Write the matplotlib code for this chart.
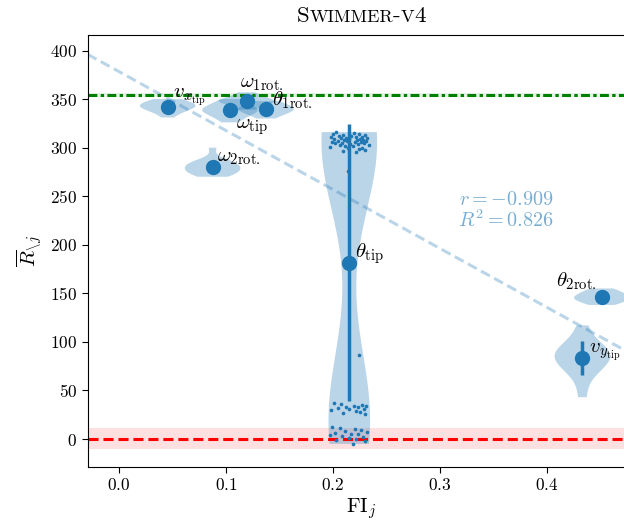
import numpy as np
import matplotlib
matplotlib.use('Agg')
import matplotlib.pyplot as plt
from matplotlib.transforms import ScaledTranslation

plt.rcParams.update({
    'font.family': 'serif',
    'font.serif': ['cmr10'],
    'mathtext.fontset': 'cm',
    'axes.formatter.use_mathtext': True,
    'axes.unicode_minus': False,
    'font.size': 12,
})

# features, their mean fraction of importance and the per-run scores after removal
features = [r'v_{x_\mathrm{tip}}', r'\omega_\mathrm{tip}', r'\omega_{1\mathrm{rot.}}',
            r'\theta_{1\mathrm{rot.}}', r'\omega_{2\mathrm{rot.}}', r'\theta_\mathrm{tip}',
            r'\theta_{2\mathrm{rot.}}', r'v_{y_\mathrm{tip}}']
fi_mean = [0.0455, 0.1037, 0.1193, 0.1374, 0.0875, 0.2152, 0.4511, 0.4330]

scores_vx_tip = [331, 335, 337, 339, 340, 341, 342, 343, 344, 345, 346, 347, 349, 350]
scores_w_tip = [326, 330, 333, 335, 337, 338, 339, 340, 342, 344, 346, 350]
scores_w1_rot = [339, 342, 344, 346, 347, 348, 348, 349, 350, 352, 354, 357]
scores_th1_rot = [330, 333, 335, 337, 338, 339, 340, 341, 343, 344, 346, 348]
scores_w2_rot = [270, 272, 273, 275, 276, 277, 279, 280, 282, 283, 284, 286, 287, 300]
scores_th_tip = [316, 315, 314, 314, 313, 313, 312, 312, 311, 311, 311, 310, 310, 310,
                 309, 309, 309, 308, 308, 308, 307, 307, 307, 306, 306, 306, 305, 305,
                 305, 304, 304, 303, 303, 302, 302, 301, 300, 300, 299, 298, 297, 296,
                 276, 86,
                 37, 36, 35, 34, 34, 33, 33, 32, 31, 31, 30, 29, 28, 27, 26,
                 12, 11, 10, 9, 8, 7, 6, 5, 5, 4, 3, 2, 1, 0, -1, -2, -5]
# per-run FI offsets of theta_tip around its mean (x 1e-3)
fi_offsets_th_tip = [-12, 4, -15, 9, -6, 15, -10, 2, 12, -17, 6, -3, 17, -8,
                     10, -14, 0, 13, -5, 7, -11, 16, -2, -16, 5, 11, -7, 14,
                     -13, 1, 8, -9, 18, -4, 3, -18, 12, -1, 9, 15, -6, 6,
                     -1, 9,
                     -14, -8, 12, 4, 16, -3, 8, -11, 14, 0, -17, 6, 10, -6, 15,
                     -16, -9, 5, 11, -4, 17, -13, 2, 8, -18, -7, 13, 0, 6, -12, 15, 3]
scores_th2_rot = [138, 140, 141, 143, 144, 145, 146, 147, 148, 150, 151, 153, 155]
scores_vy_tip = [43, 62, 70, 75, 78, 81, 84, 86, 88, 90, 93, 97, 103, 117]

scores = [scores_vx_tip, scores_w_tip, scores_w1_rot, scores_th1_rot,
          scores_w2_rot, scores_th_tip, scores_th2_rot, scores_vy_tip]

full_score, full_band = 354.3, 2.4
baseline_score, baseline_band = 0.5, 10.8
r_value, r_squared = -0.909, 0.826

# label offsets (points) relative to each marker: (dx, dy, ha)
label_offsets = [(4, 7, 'left'), (4, -12, 'left'), (-5, 12, 'left'), (4, 6.5, 'left'),
                 (3.5, 6.5, 'left'), (4, 6.5, 'left'), (-3.5, 11.5, 'right'), (5, 4, 'left')]

fig = plt.figure(figsize=(6.24, 5.29), dpi=100)
ax = fig.add_axes([0.1404, 0.1178, 0.877, 0.8161])
xlim = (-0.0293, 0.482)
ax.set_xlim(*xlim)
ax.set_ylim(-28.5, 416)

# reference levels: full model and removed-everything baseline
ax.axhspan(full_score - full_band, full_score + full_band, color='green', alpha=0.1, lw=0, zorder=0.5)
ax.axhline(full_score, color='green', lw=2.2, ls=(0, (2.9, 1.1, 1.1, 1.1)), zorder=2)
ax.axhspan(baseline_score - baseline_band, baseline_score + baseline_band, color='red', alpha=0.12, lw=0, zorder=0.5)
ax.axhline(baseline_score, color='red', lw=2.2, ls=(0, (3.3, 1.6)), zorder=2)

means = np.array([np.mean(s) for s in scores])
stds = np.array([np.std(s) for s in scores])

# linear fit of score vs FI
slope, intercept = np.polyfit(fi_mean, means, 1)
xs = np.array(xlim)
ax.plot(xs, intercept + slope * xs, color='C0', alpha=0.3, lw=2.2, ls=(0, (3.3, 1.6)), zorder=1.5)

th_idx = 5
narrow = [i for i in range(len(scores)) if i != th_idx]
parts = ax.violinplot([scores[i] for i in narrow], positions=[fi_mean[i] for i in narrow],
                      widths=0.052, showextrema=False)
parts_th = ax.violinplot([scores_th_tip], positions=[fi_mean[th_idx]], widths=0.052,
                         showextrema=False, bw_method=0.5)
for body in parts['bodies'] + parts_th['bodies']:
    body.set_facecolor('C0')
    body.set_edgecolor('none')
    body.set_alpha(0.3)
    body.set_zorder(1)

ax.scatter(fi_mean[th_idx] + np.array(fi_offsets_th_tip) / 1000, scores_th_tip,
           s=7, color='C0', zorder=3, lw=0)

ax.errorbar(fi_mean, means, yerr=stds, fmt='o', ms=10, lw=2.5, color='C0', capsize=0, zorder=4)

for name, x, y, (dx, dy, ha) in zip(features, fi_mean, means, label_offsets):
    ax.annotate(f'${name}$', (x, y), xytext=(dx, dy), textcoords='offset points',
                ha=ha, va='center', fontsize=15, zorder=5)

ax.text(0.406, 235, f'$r = {r_value:.3f}$\n$R^2 = {r_squared:.3f}$', color='C0', alpha=0.6,
        fontsize=14.5, ha='right', va='center', linespacing=1.0)

ax.spines['right'].set_visible(False)
ax.set_xticks([0.0, 0.1, 0.2, 0.3, 0.4])
ax.set_yticks(range(0, 401, 50))
ax.tick_params(labelsize=12.5, length=4)
ax.set_xlabel(r'$\mathrm{FI}_j$', fontsize=15, labelpad=2)
ax.set_ylabel(r'$\overline{R}_{\backslash j}$', fontsize=15)

# small-caps title built from pieces
title_parts = [('S', 16.5), ('WIMMER', 13), ('-', 16.5), ('V', 13), ('4', 16.5)]
fig.canvas.draw()
renderer = fig.canvas.get_renderer()
pieces = [ax.text(0.5, 1.0, s, fontsize=fs, transform=ax.transAxes, ha='left', va='baseline')
          for s, fs in title_parts]
widths = [p.get_window_extent(renderer).width for p in pieces]
xoff = -sum(widths) / 2
for p, w in zip(pieces, widths):
    p.set_transform(ax.transAxes + ScaledTranslation(xoff / fig.dpi, 9.4 / 72, fig.dpi_scale_trans))
    xoff += w

fig.savefig('out.png', dpi=100)
